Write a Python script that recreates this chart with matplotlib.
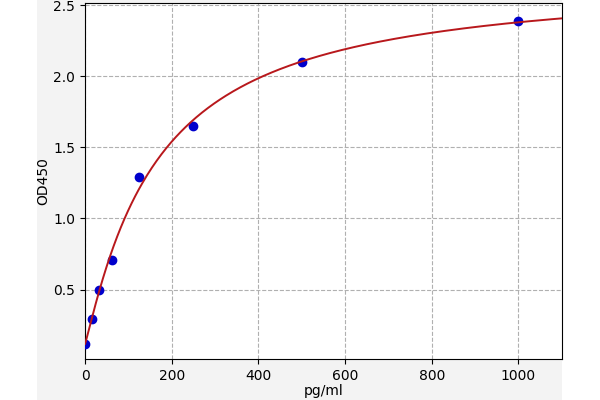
import numpy as np
import matplotlib.pyplot as plt
from matplotlib.patches import Rectangle

# standard points
conc = np.array([0, 15.6, 31.25, 62.5, 125, 250, 500, 1000])
od = np.array([0.12, 0.29, 0.50, 0.71, 1.29, 1.65, 2.10, 2.39])


def four_pl(x, a, b, c, d):
    return d + (a - d) / (1.0 + (x / c) ** b)


def fit_4pl(x, y):
    # grid over b, c; a and d by linear least squares
    best = None
    for b in np.linspace(0.5, 2.5, 81):
        for c in np.linspace(50, 1500, 291):
            g = 1.0 / (1.0 + (x / c) ** b)
            A = np.column_stack([g, 1 - g])
            coef, res, _, _ = np.linalg.lstsq(A, y, rcond=None)
            err = np.sum((A @ coef - y) ** 2)
            if best is None or err < best[0]:
                best = (err, coef[0], b, c, coef[1])
    return best[1:]


a, b, c, d = fit_4pl(conc, od)
xs = np.linspace(0, 1100, 400)

fig = plt.figure(figsize=(6, 4), dpi=100)
fig.patches.append(Rectangle((37 / 600, 0), (562 - 37) / 600, 1, transform=fig.transFigure,
                             facecolor='#f3f3f3', edgecolor='none', zorder=-1))
ax = fig.add_axes([0.1417, 0.1018, 0.7945, 0.8907])
ax.grid(True, linestyle='--', color='#b0b0b0', linewidth=0.8)
ax.set_axisbelow(True)
ax.scatter(conc, od, color='#0000cc', s=36, zorder=3)
ax.plot(xs, four_pl(xs, a, b, c, d), color='#b8181c', linewidth=1.4, zorder=4)
ax.set_xlim(0, 1100)
ax.set_ylim(0.01, 2.515)
ax.set_xticks([0, 200, 400, 600, 800, 1000])
ax.set_yticks([0.5, 1.0, 1.5, 2.0, 2.5])
ax.set_xlabel('pg/ml', labelpad=1)
ax.set_ylabel('OD450', labelpad=2)
fig.savefig('out.png', dpi=100)
